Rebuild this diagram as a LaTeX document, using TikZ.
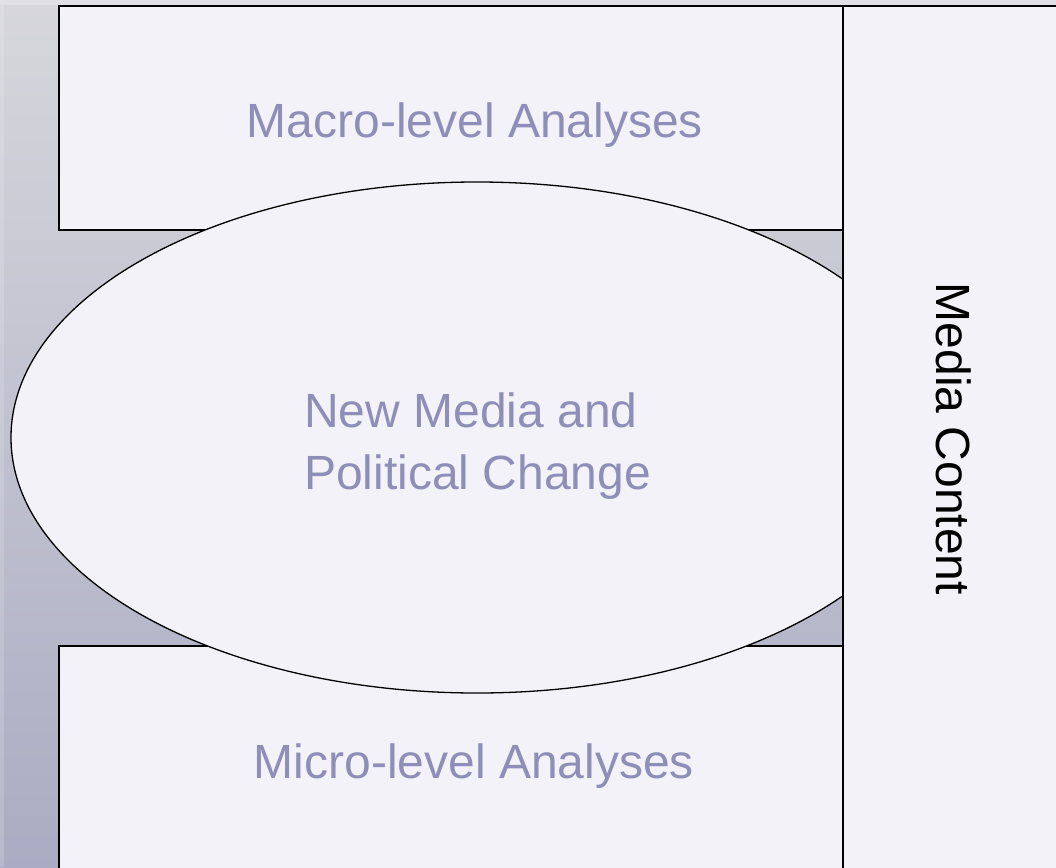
\documentclass[tikz,border=0pt]{standalone}
\usepackage{fontspec}
\setmainfont{Liberation Sans}
\usetikzlibrary{shapes.geometric}
\definecolor{boxfill}{HTML}{F2F2F8}
\definecolor{lavtext}{HTML}{8E8EB8}
\definecolor{bgtop}{HTML}{D6D6DC}
\definecolor{bgbot}{HTML}{ABACC3}
\definecolor{stripc}{HTML}{E0E0E6}
\tikzset{
  panel/.style={draw=black, line width=2pt, fill=boxfill, anchor=north west, inner sep=0pt, outer sep=0pt},
  lavlabel/.style={text=lavtext, font=\fontsize{48}{60}\selectfont, inner sep=0pt},
}
\begin{document}
\begin{tikzpicture}[x=1pt,y=-1pt]
\useasboundingbox (0,0) rectangle (1056,867);
\clip (0,0) rectangle (1056,867);
% background
\shade[top color=bgtop, bottom color=bgbot] (0,5) rectangle (1056,867);
\fill[stripc] (0,0) rectangle (1056,5);
\fill[white, opacity=0.15] (0,5) rectangle (4,867);
% boxes
\node[panel, minimum width=784pt, minimum height=224pt] (macro) at (59,6) {};
\node[panel, minimum width=784pt, minimum height=240pt] (micro) at (59,645.5) {};
% ellipse
\node[ellipse, draw=black, line width=1.3pt, fill=boxfill, minimum width=932pt, minimum height=511pt, inner sep=0pt] (core) at (477,437.5) {};
% right box
\node[panel, minimum width=240pt, minimum height=880pt] (media) at (843,6) {};
% texts
\node[lavlabel, anchor=base] (macrot) at (475,137) {Macro-level Analyses};
\node[lavlabel, anchor=base] (microt) at (474,778) {Micro-level Analyses};
\node[lavlabel, anchor=base west] (core1) at (304,427) {New Media and};
\node[lavlabel, anchor=base west] (core2) at (304,489) {Political Change};
\node[text=black, font=\fontsize{48}{60}\selectfont, inner sep=0pt, rotate=-90, anchor=base] (mediat) at (936,439) {Media Content};
\end{tikzpicture}
\end{document}
